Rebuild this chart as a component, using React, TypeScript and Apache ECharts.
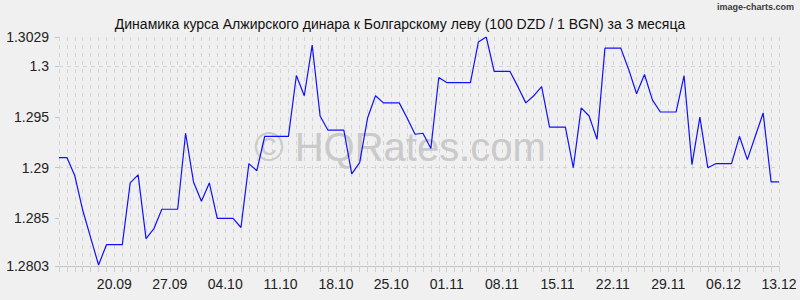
import React, { useEffect, useRef } from "react";
import * as echarts from "echarts";

const titleText =
  "Динамика курса Алжирского динара к Болгарскому леву (100 DZD / 1 BGN) за 3 месяца";

const dates = [
  "13.09", "14.09", "15.09", "16.09", "17.09", "18.09", "19.09", "20.09", "21.09", "22.09",
  "23.09", "24.09", "25.09", "26.09", "27.09", "28.09", "29.09", "30.09",
  "01.10", "02.10", "03.10", "04.10", "05.10", "06.10", "07.10", "08.10", "09.10", "10.10",
  "11.10", "12.10", "13.10", "14.10", "15.10", "16.10", "17.10", "18.10", "19.10", "20.10",
  "21.10", "22.10", "23.10", "24.10", "25.10", "26.10", "27.10", "28.10", "29.10", "30.10", "31.10",
  "01.11", "02.11", "03.11", "04.11", "05.11", "06.11", "07.11", "08.11", "09.11", "10.11",
  "11.11", "12.11", "13.11", "14.11", "15.11", "16.11", "17.11", "18.11", "19.11", "20.11",
  "21.11", "22.11", "23.11", "24.11", "25.11", "26.11", "27.11", "28.11", "29.11", "30.11",
  "01.12", "02.12", "03.12", "04.12", "05.12", "06.12", "07.12", "08.12", "09.12", "10.12",
  "11.12", "12.12", "13.12",
];

const rates = [
  1.291, 1.291, 1.2892, 1.2858, 1.2831, 1.2804, 1.2824, 1.2824, 1.2824, 1.2885,
  1.2893, 1.283, 1.284, 1.2859, 1.2859, 1.2859, 1.2934, 1.2886, 1.2867, 1.2885,
  1.285, 1.285, 1.285, 1.2841, 1.2904, 1.2897, 1.2931, 1.2931, 1.2931, 1.2931,
  1.2991, 1.2971, 1.3021, 1.2951, 1.2937, 1.2937, 1.2937, 1.2894, 1.2905, 1.2949,
  1.2971, 1.2964, 1.2964, 1.2964, 1.2949, 1.2933, 1.2934, 1.2919, 1.2989, 1.2984,
  1.2984, 1.2984, 1.2984, 1.3024, 1.3029, 1.2995, 1.2995, 1.2995, 1.298, 1.2964,
  1.2971, 1.298, 1.294, 1.294, 1.294, 1.29, 1.2959, 1.2951, 1.2928, 1.3018,
  1.3018, 1.3018, 1.2997, 1.2973, 1.2992, 1.2967, 1.2955, 1.2955, 1.2955, 1.2991,
  1.2903, 1.295, 1.29, 1.2904, 1.2904, 1.2904, 1.2931, 1.2908, 1.2931, 1.2954,
  1.2886, 1.2886,
];

const yTicks = [1.2803, 1.285, 1.29, 1.295, 1.3, 1.3029];

const xTickLabels = [
  "20.09", "27.09", "04.10", "11.10", "18.10", "25.10", "01.11",
  "08.11", "15.11", "22.11", "29.11", "06.12", "13.12",
];

const FONT = "'Liberation Sans', Arial, sans-serif";

export default function App() {
  const ref = useRef<HTMLDivElement>(null);

  useEffect(() => {
    if (!ref.current) return;
    const chart = echarts.init(ref.current, null, { renderer: "svg" });
    chart.setOption({
      animation: false,
      backgroundColor: "#f0f0f0",
      textStyle: { fontFamily: FONT },
      title: {
        text: titleText,
        left: "center",
        top: 12,
        textStyle: { fontSize: 14, fontWeight: "normal", color: "#111", fontFamily: FONT },
      },
      graphic: [
        {
          type: "text",
          x: 400,
          y: 147,
          z: 1,
          silent: true,
          style: {
            text: "© HQRates.com",
            font: "40px " + FONT,
            fill: "#cacaca",
            textAlign: "center",
            textVerticalAlign: "middle",
          },
        },
        {
          type: "text",
          x: 794,
          y: 7,
          style: {
            text: "image-charts.com",
            font: "bold 9px " + FONT,
            fill: "#3a3a3a",
            textAlign: "right",
            textVerticalAlign: "middle",
          },
        },
      ],
      grid: { left: 59, right: 21, top: 37, bottom: 34 },
      xAxis: {
        type: "category",
        data: dates,
        boundaryGap: false,
        axisLine: { show: true, lineStyle: { color: "#c4c4c4", width: 1 } },
        axisTick: {
          show: true,
          interval: 0,
          length: 6,
          lineStyle: { color: "#d0d0d0", width: 1 },
        },
        splitLine: {
          show: true,
          interval: 0,
          lineStyle: { color: "#d4d4d4", type: [4, 4], width: 1 },
        },
        axisLabel: {
          interval: (_idx: number, val: string) => xTickLabels.includes(val),
          margin: 11,
          fontSize: 14,
          color: "#222",
          fontFamily: FONT,
        },
      },
      yAxis: {
        type: "value",
        min: yTicks[0],
        max: yTicks[yTicks.length - 1],
        axisLine: { show: false },
        splitLine: { show: false },
        axisTick: {
          show: true,
          length: 4,
          customValues: yTicks,
          lineStyle: { color: "#c4c4c4" },
        },
        axisLabel: {
          customValues: yTicks,
          margin: 10,
          fontSize: 14,
          color: "#222",
          fontFamily: FONT,
          formatter: (v: number) => String(Number(v.toFixed(4))),
        },
      },
      series: [
        {
          type: "line",
          data: rates,
          symbol: "none",
          z: 3,
          lineStyle: { color: "#1010ff", width: 1.2 },
          markLine: {
            silent: true,
            symbol: "none",
            label: { show: false },
            z: 0,
            lineStyle: { color: "#d4d4d4", type: [4, 4], width: 1 },
            data: yTicks.slice(1).map((v) => ({ yAxis: v })),
          },
        },
      ],
    });
    return () => chart.dispose();
  }, []);

  return (
    <div
      ref={ref}
      style={{ position: "fixed", left: 0, top: 0, width: 800, height: 300 }}
    />
  );
}
